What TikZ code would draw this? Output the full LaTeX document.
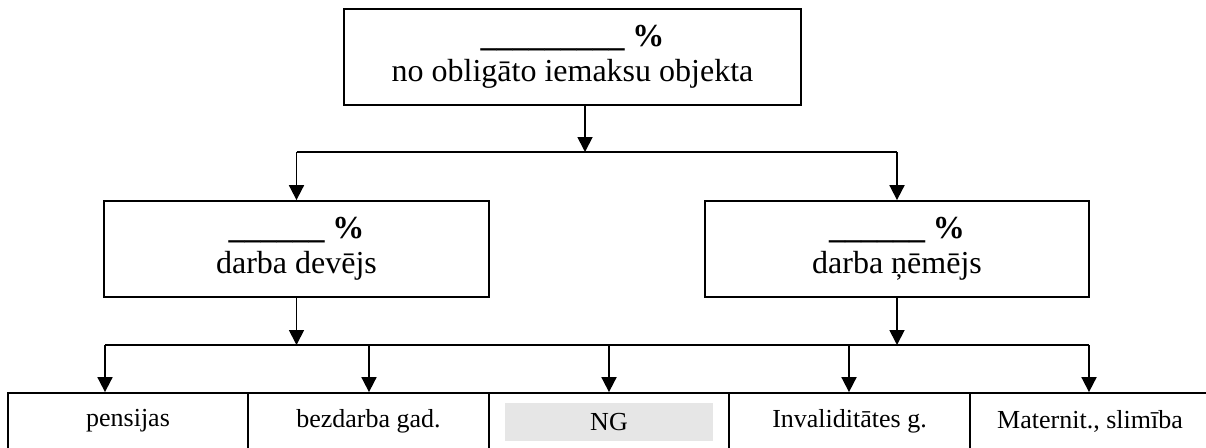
\documentclass[tikz,border=0pt]{standalone}
\usepackage{fontspec}
\setmainfont{Liberation Serif}
\usetikzlibrary{arrows.meta}
\definecolor{ngfill}{RGB}{230,230,230}
\tikzset{
  x=1pt, y=1pt,
  box/.style={draw, line width=1.8pt, align=center, inner sep=0pt,
    font=\fontsize{32}{35}\selectfont},
  cell/.style={draw, line width=1.8pt, inner sep=0pt, minimum width=240.5pt,
    minimum height=56pt, font=\fontsize{26}{30}\selectfont},
  ngbox/.style={fill=ngfill, inner sep=0pt, minimum width=208pt, minimum height=38pt,
    font=\fontsize{26}{30}\selectfont},
  link/.style={line width=1.8pt},
  arr/.style={line width=1.8pt, -{Triangle[length=15pt,width=15pt]}},
}
\begin{document}
\begin{tikzpicture}
\path[use as bounding box, clip] (0,0) rectangle (1206,-447);

\node[box, minimum width=457pt, minimum height=96pt] (top) at (572.5,-57)
  {\textbf{\_\_\_\_\_\_\_\_\_ \%}\\no obligāto iemaksu objekta};
\node[box, minimum width=385pt, minimum height=96pt] (L) at (296.5,-249)
  {\textbf{\_\_\_\_\_\_ \%}\\darba devējs};
\node[box, minimum width=384pt, minimum height=96pt] (R) at (897,-249)
  {\textbf{\_\_\_\_\_\_ \%}\\darba ņēmējs};

\node[cell] (c1) at (128,-421) {pensijas};
\node[cell] (c2) at (368.5,-421) {bezdarba gad.};
\node[cell] (c3) at (609,-421) {};
\node[ngbox] (ng) at (609,-422) {NG};
\node[cell] (c4) at (849.5,-421) {Invaliditātes g.};
\node[cell] (c5) at (1090,-421) {Maternit., slimība};

% top level connectors
\coordinate (j1) at (585,-152);
\draw[arr] (top.south -| j1) -- (j1);
\draw[link] (L.north |- j1) -- (R.north |- j1);
\draw[arr] (L.north |- j1) -- (L.north);
\draw[arr] (R.north |- j1) -- (R.north);

% bottom level connectors
\coordinate (a1) at (105,-345);
\coordinate (a2) at (369,-345);
\coordinate (a4) at (849,-345);
\coordinate (a5) at (1089,-345);
\draw[arr] (L.south) -- (L.south |- a1);
\draw[arr] (R.south) -- (R.south |- a1);
\draw[link] (a1) -- (a5);
\draw[arr] (a1) -- (a1 |- c1.north);
\draw[arr] (a2) -- (a2 |- c2.north);
\draw[arr] (c3.north |- a1) -- (c3.north);
\draw[arr] (a4) -- (a4 |- c4.north);
\draw[arr] (a5) -- (a5 |- c5.north);
\end{tikzpicture}
\end{document}
